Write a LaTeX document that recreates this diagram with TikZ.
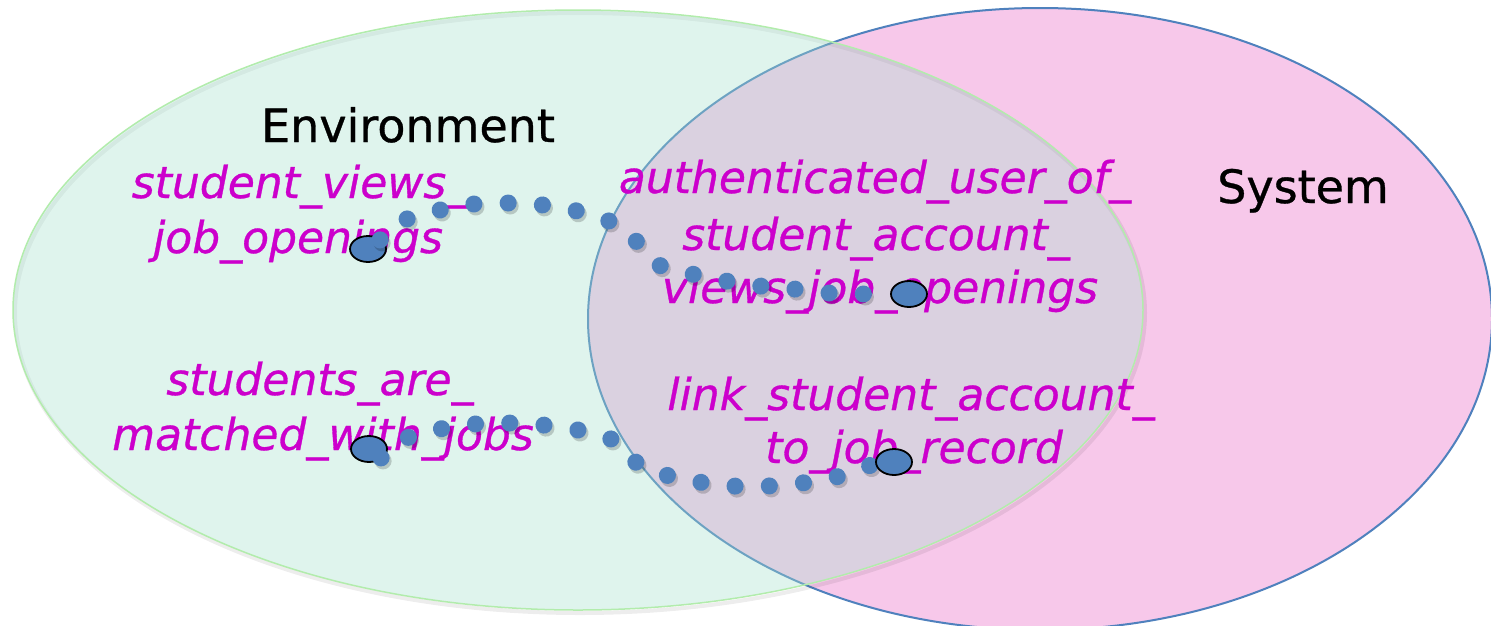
\documentclass[tikz,border=0pt]{standalone}
\usepackage{fontspec}
\setmainfont{DejaVu Sans}
\newfontfamily\labfont{DejaVu Sans}[FakeBold=0.7, ItalicFeatures={FakeBold=0.7}]
\usetikzlibrary{shapes.geometric}
\definecolor{pinkfill}{RGB}{247,200,234}
\definecolor{sysline}{RGB}{79,129,189}
\definecolor{envfill}{RGB}{166,226,206}
\definecolor{envline}{RGB}{178,236,172}
\definecolor{dotblue}{RGB}{79,129,189}
\definecolor{labmag}{RGB}{204,0,204}
\pgfdeclarelayer{fg}
\pgfsetlayers{main,fg}
\begin{document}
\begin{tikzpicture}[x=1pt,y=-1pt,
  lab/.style={text=labmag, font=\labfont\fontsize{44}{55}\selectfont\itshape, inner sep=0pt, anchor=base},
  title/.style={text=black, font=\labfont\fontsize{46}{55}\selectfont, inner sep=0pt, anchor=base},
  endpt/.style={ellipse, draw=black, line width=1.8pt, fill=dotblue, minimum width=36pt, minimum height=26pt, inner sep=0pt},
  dotchain/.style={dotblue, line width=17pt, line cap=round, dash pattern=on 0.1pt off 34.2pt, dash phase=19.2pt},
  dotshadow/.style={black, opacity=0.18, line width=17pt, line cap=round, dash pattern=on 0.1pt off 34.2pt, dash phase=19.2pt, transform canvas={xshift=2pt,yshift=-3pt}}]
\useasboundingbox (0,0) rectangle (1491,625);
\fill[white] (0,0) rectangle (1491,625);
% System ellipse
\draw[sysline, line width=2pt, fill=pinkfill] (1040,319) ellipse [x radius=452, y radius=311];
% Environment ellipse
\draw[black, opacity=0.07, line width=4pt, transform canvas={xshift=2pt,yshift=-3pt}] (578,310) ellipse [x radius=565, y radius=300];
\draw[envline, line width=1.5pt, fill=envfill, fill opacity=0.35] (578,310) ellipse [x radius=565, y radius=300];
% titles
\node[title] (env) at (408,142) {Environment};
\node[title] (sys) at (1303,203) {System};
% labels
\node[lab] (sv1) at (300,198) {student\_views\_};
\node[lab] (sv2) at (298,253) {job\_openings};
\node[lab] (au1) at (875,193) {authenticated\_user\_of\_};
\node[lab] (au2) at (876,250) {student\_account\_};
\node[lab] (au3) at (880,303) {views\_job\_openings};
\node[lab] (sm1) at (320,395) {students\_are\_};
\node[lab] (sm2) at (323,450) {matched\_with\_jobs};
\node[lab] (lk1) at (911,410) {link\_student\_account\_};
\node[lab] (lk2) at (914,463) {to\_job\_record};
% end points
\node[endpt] (o1) at (368,249) {};
\node[endpt] (o3) at (369,449) {};
\begin{pgfonlayer}{fg}
\node[endpt] (o2) at (909,294) {};
\node[endpt] (o4) at (894,462) {};
\end{pgfonlayer}
% dotted connectors
\foreach \s in {dotshadow,dotchain}{
\draw[\s] (o1.center) -- plot[smooth, tension=0.6] coordinates {(380,240) (407,219) (440,210) (474,204) (508,203) (543,205) (577,211) (609,221) (636,241) (659,265) (692,274) (726,281) (760,286) (794,289) (829,293) (862,294)} -- (o2.west);
\draw[\s] (o3.center) -- plot[smooth, tension=0.6] coordinates {(381,458) (407,438) (440,429) (475,424) (509,423) (543,425) (578,430) (611,439) (634,461) (666,475) (699,482) (733,486) (768,486) (802,483) (836,477) (869,466)} -- (o4.west);
}
\end{tikzpicture}
\end{document}
